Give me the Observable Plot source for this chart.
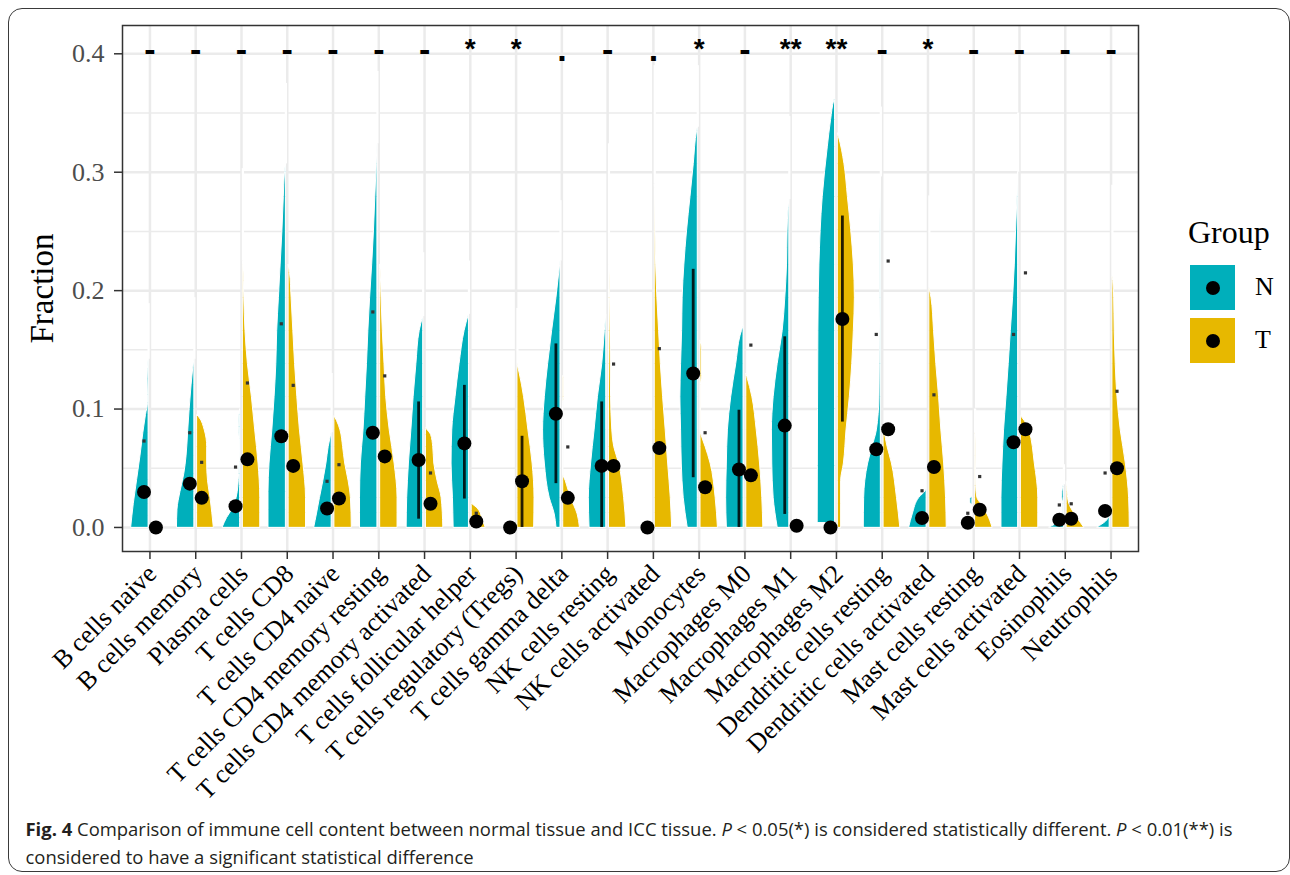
<!DOCTYPE html>
<html><head><meta charset="utf-8">
<script src="https://cdn.jsdelivr.net/npm/d3@7"></script>
<script src="https://cdn.jsdelivr.net/npm/@observablehq/plot@0.6"></script>
<style>
html,body{margin:0;padding:0;background:#fff}
body{width:1290px;height:875px;overflow:hidden;position:relative;font-family:"Liberation Serif",serif}
#frame{position:absolute;left:8px;top:8px;width:1282px;height:864px;border:1.5px solid #3a3a3a;border-radius:14px;box-sizing:border-box;pointer-events:none}
#chart{position:absolute;left:0;top:0}
.lg{position:absolute;font-family:"Liberation Serif",serif;line-height:1;white-space:nowrap;color:#000}
.key{position:absolute;width:45px;height:45px}
.key span{position:absolute;left:15.5px;top:15.5px;width:14px;height:14px;border-radius:50%;background:#000}
.cap{position:absolute;left:25.5px;font-family:"Open Sans",sans-serif;color:#231f20;line-height:1;white-space:nowrap}
</style></head>
<body>
<div id="chart"></div>
<div class="lg" id="lgTitle" style="left:1188px;top:216px;font-size:32px">Group</div>
<div class="key" style="left:1190px;top:265px;background:#00AFBB"><span></span></div>
<div class="key" style="left:1190px;top:318px;background:#E7B800"><span></span></div>
<div class="lg" style="left:1255px;top:274px;font-size:26px">N</div>
<div class="lg" style="left:1255px;top:327px;font-size:26px">T</div>
<div class="cap" id="cap1"><b>Fig. 4</b> Comparison of immune cell content between normal tissue and ICC tissue. <i>P</i> &lt; 0.05(*) is considered statistically different. <i>P</i> &lt; 0.01(**) is</div>
<div class="cap" id="cap2">considered to have a significant statistical difference</div>
<div id="frame"></div>
<script>
// ---------------- data ----------------
const cats = ["B cells naive","B cells memory","Plasma cells","T cells CD8","T cells CD4 naive",
  "T cells CD4 memory resting","T cells CD4 memory activated","T cells follicular helper",
  "T cells regulatory (Tregs)","T cells gamma delta","NK cells resting","NK cells activated",
  "Monocytes","Macrophages M0","Macrophages M1","Macrophages M2","Dendritic cells resting",
  "Dendritic cells activated","Mast cells resting","Mast cells activated","Eosinophils","Neutrophils"];
const groups = ["N","T"];
const sigLabels = ["-","-","-","-","-","-","-","*","*",".","-",".","*","-","**","**","-","*","-","-","-","-"];

// medians (big dots)
const medN = [0.030,0.037,0.018,0.077,0.016,0.080,0.057,0.071,0.000,0.096,0.052,0.000,0.130,0.049,0.086,0.000,0.066,0.008,0.004,0.072,0.0065,0.014];
const medT = [0.000,0.025,0.0575,0.052,0.0245,0.060,0.020,0.005,0.039,0.025,0.052,0.067,0.034,0.044,0.0014,0.176,0.083,0.051,0.015,0.083,0.0073,0.050];
// small square markers
const meanN = [0.073,0.080,0.051,0.172,0.039,0.182,null,null,null,null,null,null,null,null,null,null,0.163,0.031,0.012,0.163,0.019,0.046];
const meanT = [null,0.055,0.122,0.120,0.053,0.128,0.046,0.012,null,0.068,0.138,0.151,0.080,0.154,null,null,0.225,0.112,0.043,0.215,0.020,0.115];
// vertical range lines
const loN = [null,null,null,null,null,null,0.007,0.024,null,0.037,0.000,null,0.042,0.000,0.011,null,null,null,null,null,null,null];
const hiN = [null,null,null,null,null,null,0.106,0.120,null,0.155,0.106,null,0.218,0.099,0.161,null,null,null,null,null,null,null];
const loT = [null,null,null,null,null,null,null,null,0.000,null,null,null,null,null,null,0.089,null,null,null,null,null,null];
const hiT = [null,null,null,null,null,null,null,null,0.077,null,null,null,null,null,null,0.263,null,null,null,null,null,null];
// thin white violin tails (maximum values)
const tailN = [0.189,0.194,null,0.375,0.13,0.385,0.232,0.225,null,0.276,null,null,0.39,null,0.347,null,0.355,null,null,0.35,0.053,null];
const tailT = [null,null,0.303,null,null,null,null,null,0.185,null,0.324,0.39,null,null,null,null,null,0.28,0.10,null,null,0.289];

// violin half-width profiles: [fraction, relative width]
const profN = [
 [[0,1],[0.02,0.85],[0.04,0.66],[0.06,0.47],[0.08,0.3],[0.095,0.15],[0.105,0.04],[0.112,0.04],[0.125,0.06],[0.142,0]],
 [[0,1],[0.015,0.97],[0.03,0.8],[0.045,0.58],[0.06,0.45],[0.08,0.36],[0.1,0.27],[0.12,0.16],[0.135,0.06],[0.142,0]],
 [[0,1],[0.008,0.75],[0.015,0.45],[0.025,0.2],[0.035,0.1],[0.045,0.06],[0.055,0.03],[0.065,0.02],[0.075,0.03],[0.085,0.06],[0.095,0.04],[0.1,0]],
 [[0,1],[0.03,1],[0.054,0.94],[0.082,0.78],[0.11,0.65],[0.138,0.55],[0.166,0.5],[0.194,0.4],[0.222,0.3],[0.25,0.2],[0.279,0.12],[0.3,0.05],[0.307,0]],
 [[0,1],[0.011,0.85],[0.025,0.67],[0.039,0.48],[0.054,0.3],[0.068,0.17],[0.076,0.06],[0.08,0]],
 [[0,1],[0.025,1],[0.054,0.95],[0.082,0.8],[0.11,0.7],[0.138,0.6],[0.166,0.52],[0.194,0.42],[0.222,0.3],[0.25,0.2],[0.279,0.12],[0.307,0.04],[0.324,0]],
 [[0,0.95],[0.025,0.92],[0.054,0.82],[0.082,0.68],[0.11,0.55],[0.138,0.39],[0.166,0.2],[0.178,0]],
 [[0,0.88],[0.025,0.92],[0.054,1],[0.082,0.96],[0.11,0.77],[0.138,0.54],[0.166,0.25],[0.18,0]],
 [],
 [[0,0.23],[0.011,0.33],[0.025,0.62],[0.054,0.9],[0.082,1],[0.11,0.9],[0.138,0.71],[0.166,0.48],[0.194,0.23],[0.222,0.02],[0.225,0]],
 [[0,0.96],[0.025,1],[0.054,0.87],[0.082,0.67],[0.11,0.48],[0.138,0.23],[0.166,0.08],[0.18,0]],
 [],
 [[0,0.58],[0.025,0.81],[0.054,0.92],[0.082,0.96],[0.11,1],[0.138,0.96],[0.166,0.9],[0.194,0.87],[0.222,0.77],[0.25,0.62],[0.279,0.42],[0.307,0.23],[0.335,0.04],[0.338,0]],
 [[0,0.96],[0.025,1],[0.054,0.96],[0.082,0.9],[0.11,0.71],[0.138,0.42],[0.162,0.17],[0.17,0]],
 [[0,0.67],[0.025,0.9],[0.054,0.98],[0.082,1],[0.11,0.9],[0.138,0.67],[0.166,0.38],[0.194,0.23],[0.222,0.13],[0.25,0.1],[0.27,0.04],[0.277,0]],
 [[0.004,1],[0.1,0.98],[0.166,0.96],[0.222,0.9],[0.279,0.71],[0.321,0.42],[0.344,0.23],[0.361,0.04],[0.363,0]],
 [[0,0.98],[0.025,0.96],[0.054,0.73],[0.068,0.48],[0.082,0.23],[0.11,0.08],[0.138,0.06],[0.194,0.04],[0.25,0.03],[0.296,0]],
 [[0,1],[0.011,0.8],[0.025,0.42],[0.031,0.04],[0.033,0]],
 [[0.019,0],[0.021,0.12],[0.024,0.12],[0.026,0]],
 [[0,0.96],[0.025,0.96],[0.054,0.9],[0.082,0.81],[0.11,0.67],[0.138,0.54],[0.166,0.42],[0.194,0.29],[0.222,0.19],[0.25,0.12],[0.279,0.04],[0.3,0]],
 [[0,0.83],[0.004,0.3],[0.008,0.04],[0.02,0.04],[0.026,0.1],[0.034,0.05],[0.036,0]],
 [[0,0.7],[0.005,0.2],[0.01,0]]
];
const profT = [
 [],
 [[0,0.96],[0.025,0.77],[0.039,0.63],[0.054,0.58],[0.068,0.58],[0.082,0.44],[0.093,0.12],[0.095,0]],
 [[0,1],[0.025,1],[0.054,0.9],[0.082,0.71],[0.11,0.52],[0.138,0.29],[0.166,0.15],[0.194,0.08],[0.222,0.02],[0.225,0]],
 [[0,1],[0.025,1],[0.054,0.85],[0.082,0.65],[0.11,0.5],[0.138,0.37],[0.166,0.27],[0.194,0.17],[0.215,0.08],[0.222,0]],
 [[0,1],[0.025,0.95],[0.039,0.82],[0.054,0.62],[0.068,0.5],[0.082,0.35],[0.09,0.15],[0.094,0]],
 [[0,1],[0.025,1],[0.054,0.83],[0.082,0.55],[0.11,0.35],[0.138,0.25],[0.166,0.15],[0.194,0.08],[0.218,0.02],[0.222,0]],
 [[0,1],[0.025,0.9],[0.039,0.67],[0.054,0.48],[0.068,0.42],[0.078,0.3],[0.083,0.05],[0.084,0]],
 [[0,0.8],[0.008,0.6],[0.014,0.45],[0.019,0.1],[0.02,0]],
 [[0,0.96],[0.025,0.98],[0.054,0.87],[0.082,0.63],[0.11,0.38],[0.13,0.13],[0.138,0]],
 [[0,0.96],[0.011,0.83],[0.025,0.44],[0.039,0.15],[0.045,0],[0.105,0],[0.11,0.05],[0.125,0.05],[0.128,0]],
 [[0,1],[0.025,0.87],[0.054,0.58],[0.068,0.3],[0.082,0.19],[0.11,0.12],[0.138,0.1],[0.166,0.08],[0.194,0.06],[0.222,0.02],[0.242,0]],
 [[0,1],[0.025,0.92],[0.054,0.77],[0.082,0.63],[0.11,0.48],[0.138,0.35],[0.166,0.25],[0.194,0.15],[0.222,0.08],[0.25,0.04],[0.287,0.01],[0.29,0]],
 [[0,1],[0.025,0.87],[0.054,0.58],[0.068,0.29],[0.076,0.1],[0.08,0.02],[0.12,0.02],[0.128,0.08],[0.15,0.08],[0.158,0]],
 [[0,0.98],[0.025,0.92],[0.054,0.79],[0.082,0.6],[0.11,0.35],[0.127,0.06],[0.13,0]],
 [],
 [[0,0.19],[0.039,0.19],[0.054,0.35],[0.082,0.5],[0.11,0.69],[0.138,0.83],[0.166,0.92],[0.194,0.98],[0.222,0.92],[0.251,0.77],[0.279,0.58],[0.307,0.38],[0.33,0.06],[0.333,0]],
 [[0,0.96],[0.025,0.77],[0.054,0.48],[0.068,0.23],[0.082,0.04],[0.085,0]],
 [[0,1],[0.025,0.96],[0.054,0.85],[0.082,0.69],[0.11,0.56],[0.138,0.4],[0.166,0.27],[0.194,0.12],[0.2,0.04],[0.202,0]],
 [[0,1],[0.011,0.71],[0.02,0.33],[0.025,0.13],[0.035,0.06],[0.06,0.04],[0.079,0.02],[0.08,0]],
 [[0,1],[0.025,1],[0.054,0.8],[0.082,0.48],[0.093,0.06],[0.094,0]],
 [[0,1],[0.008,0.62],[0.014,0.35],[0.02,0.15],[0.03,0.05],[0.038,0.02],[0.039,0]],
 [[0,1],[0.025,0.96],[0.054,0.77],[0.082,0.48],[0.11,0.29],[0.138,0.19],[0.166,0.13],[0.194,0.1],[0.208,0.05],[0.212,0]]
];
const yTicks = [0, 0.1, 0.2, 0.3, 0.4];
const yMinor = [0.05, 0.15, 0.25, 0.35];
const colors = {N: "#00AFBB", T: "#E7B800"};

// ---------------- build tables ----------------
const HALF = 0.38, GAP = 0.03, DODGE = 0.13;
const idx = cats.map((c, i) => i);
const violN = [], violT = [];
idx.forEach(i => {
  profN[i].forEach(([v, w]) => violN.push({i, y: v, x1: i - GAP, x2: i - GAP - w * HALF}));
  profT[i].forEach(([v, w]) => violT.push({i, y: v, x1: i + GAP, x2: i + GAP + w * HALF}));
});
const topOf = p => p.length ? p[p.length - 1][0] : 0;
const tails = [];
idx.forEach(i => {
  if (tailN[i] != null) tails.push({x: i - GAP, y1: topOf(profN[i]), y2: tailN[i]});
  if (tailT[i] != null) tails.push({x: i + GAP, y1: topOf(profT[i]), y2: tailT[i]});
});
const ranges = [];
idx.forEach(i => {
  if (loN[i] != null) ranges.push({x: i - DODGE, y1: loN[i], y2: hiN[i]});
  if (loT[i] != null) ranges.push({x: i + DODGE, y1: loT[i], y2: hiT[i]});
});
const means = [];
idx.forEach(i => {
  if (meanN[i] != null) means.push({x: i - DODGE, y: meanN[i]});
  if (meanT[i] != null) means.push({x: i + DODGE, y: meanT[i]});
});
const meds = idx.map(i => ({x: i - DODGE, y: medN[i]})).concat(idx.map(i => ({x: i + DODGE, y: medT[i]})));
const sigBase = 0.3943;
const sigSize = d => d === "-" ? 34 : 34;

const chart = Plot.plot({
  width: 1160, height: 805,
  marginLeft: 122, marginRight: 22, marginTop: 25, marginBottom: 254,
  style: {fontFamily: "Liberation Serif, serif", background: "transparent"},
  x: {type: "linear", domain: [-0.6, cats.length - 0.4]},
  y: {domain: [-0.0203, 0.4239]},
  marks: [
    Plot.gridY(yMinor, {stroke: "#ebebeb", strokeOpacity: 1, strokeWidth: 1.5}),
    Plot.gridY(yTicks, {stroke: "#ebebeb", strokeOpacity: 1, strokeWidth: 2.5}),
    Plot.gridX(idx, {stroke: "#ebebeb", strokeOpacity: 1, strokeWidth: 2.5}),
    Plot.ruleX(tails, {x: "x", y1: "y1", y2: "y2", stroke: "white", strokeWidth: 2.2}),
    Plot.areaX(violN, {y: "y", x1: "x1", x2: "x2", z: "i", fill: colors.N, stroke: "white", strokeWidth: 1, curve: "monotone-y"}),
    Plot.areaX(violT, {y: "y", x1: "x1", x2: "x2", z: "i", fill: colors.T, stroke: "white", strokeWidth: 1, curve: "monotone-y"}),
    Plot.ruleX(ranges, {x: "x", y1: "y1", y2: "y2", stroke: "#000", strokeOpacity: 0.85, strokeWidth: 2.8}),
    Plot.dot(means, {x: "x", y: "y", symbol: "square", r: 1.8, fill: "#333", stroke: null}),
    Plot.dot(meds, {x: "x", y: "y", r: 7, fill: "#000", stroke: null}),
    Plot.frame({stroke: "#333", strokeWidth: 1.5}),
    Plot.axisY(yTicks, {tickFormat: d3.format(".1f"), fontSize: 26, tickSize: 8, tickPadding: 10, stroke: "#333", strokeWidth: 1.5, fill: "#4d4d4d", label: null}),
    Plot.axisX(idx, {tickFormat: () => "", tickSize: 8, stroke: "#333", strokeWidth: 1.5, label: null}),
    Plot.axisX(idx, {tickFormat: i => cats[i], tickRotate: -45, fontSize: 26, tickSize: 0, tickPadding: 12, dx: 2, dy: 6, fill: "#000", label: null}),
    Plot.text(sigLabels, {filter: d => !d.includes("*"), x: (d, i) => i, y: sigBase, text: d => d, lineAnchor: "bottom", fontSize: sigSize, fontWeight: "bold", fontFamily: "Liberation Sans, sans-serif", fill: "#000"}),
    Plot.text(sigLabels, {filter: d => d.includes("*"), x: (d, i) => i, y: sigBase, dy: -3, text: d => d, lineAnchor: "bottom", fontSize: 28, fontWeight: "bold", fontFamily: "Liberation Sans, sans-serif", fill: "#000"}),
    Plot.text(["Fraction"], {frameAnchor: "left", dx: -80.5, rotate: -90, text: d => d, fontSize: 33, fill: "#000", lineAnchor: "middle", textAnchor: "middle"})
  ]
});
document.getElementById("chart").appendChild(chart);

// caption fit
const c1 = document.getElementById("cap1"), c2 = document.getElementById("cap2");
c1.style.fontSize = "15px";
const w15 = c1.getBoundingClientRect().width;
const fs = 15 * 1208 / w15;
[c1, c2].forEach(c => c.style.fontSize = fs + "px");
c1.style.top = (836.7 - 0.888 * fs) + "px";
c2.style.top = (864 - 0.888 * fs) + "px";
</script>
</body></html>
